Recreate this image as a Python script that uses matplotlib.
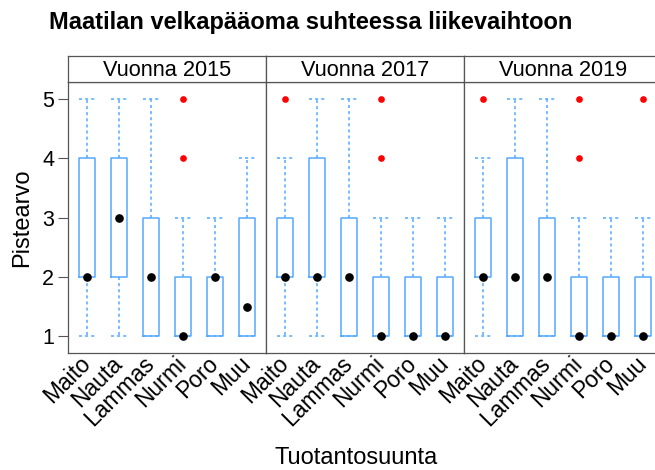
import numpy as np
import matplotlib
matplotlib.use("Agg")
import matplotlib.pyplot as plt

plt.rcParams['font.family'] = ['Liberation Sans', 'DejaVu Sans']

# data (lattice bwplot)
categories = ["Maito", "Nauta", "Lammas", "Nurmi", "Poro", "Muu"]
years = ["Vuonna 2015", "Vuonna 2017", "Vuonna 2019"]

q1 = [[2, 2, 1, 1, 1, 1],
      [2, 2, 1, 1, 1, 1],
      [2, 1, 1, 1, 1, 1]]
median = [[2, 3, 2, 1, 2, 1.5],
          [2, 2, 2, 1, 1, 1],
          [2, 2, 2, 1, 1, 1]]
q3 = [[4, 4, 3, 2, 2, 3],
      [3, 4, 3, 2, 2, 2],
      [3, 4, 3, 2, 2, 2]]
whislo = [[1, 1, 1, 1, 1, 1],
          [1, 1, 1, 1, 1, 1],
          [1, 1, 1, 1, 1, 1]]
whishi = [[5, 5, 5, 3, 3, 4],
          [4, 5, 5, 3, 3, 3],
          [4, 5, 5, 3, 3, 3]]
outliers = [[[], [], [], [4, 5], [], []],
            [[5], [], [], [4, 5], [], []],
            [[5], [], [], [4, 5], [], [5]]]

box_col = "#55aaff"
frame_col = "#555555"

W, H = 655, 470
fig = plt.figure(figsize=(6.55, 4.7), dpi=100)

left = 68
pw = 198
ptop, pbot = 82, 353
stop = 56

for k in range(3):
    x0 = (left + k * pw) / W
    ax = fig.add_axes([x0, (H - pbot) / H, pw / W, (pbot - ptop) / H])
    stats = []
    for i in range(6):
        stats.append(dict(med=median[k][i], q1=q1[k][i], q3=q3[k][i],
                          whislo=whislo[k][i], whishi=whishi[k][i],
                          fliers=outliers[k][i], label=categories[i]))
    pos = np.arange(1, 7)
    ax.bxp(stats, positions=pos, widths=0.5, capwidths=0.5,
           boxprops=dict(color=box_col, lw=1.1),
           whiskerprops=dict(color=box_col, lw=1.1, linestyle=(0, (2, 2))),
           capprops=dict(color=box_col, lw=1.1, linestyle=(0, (2, 2))),
           medianprops=dict(lw=0),
           flierprops=dict(marker='o', markersize=3.8, markerfacecolor='red',
                           markeredgecolor='red', linestyle='none'))
    ax.plot(pos, median[k], 'o', color='black', markersize=5.2, zorder=5)

    ax.set_xlim(0.4, 6.6)
    ax.set_ylim(0.72, 5.28)
    for s in ax.spines.values():
        s.set_color(frame_col)
        s.set_linewidth(0.9)
    ax.set_xticks(pos)
    ax.set_xticklabels(categories, rotation=45, ha='right', va='center',
                       rotation_mode='anchor', fontsize=16.5)
    ax.tick_params(axis='x', length=0, pad=5)
    if k == 0:
        ax.set_yticks([1, 2, 3, 4, 5])
        ax.tick_params(axis='y', length=7, color=frame_col, labelsize=15.5, pad=3)
    else:
        ax.set_yticks([])

    # strip
    sx = fig.add_axes([x0, (H - ptop) / H, pw / W, (ptop - stop) / H])
    sx.set_xticks([])
    sx.set_yticks([])
    for s in sx.spines.values():
        s.set_color(frame_col)
        s.set_linewidth(0.9)
    sx.text(0.5, 0.45, years[k], ha='center', va='center', fontsize=15.7,
            transform=sx.transAxes)

fig.text(49 / W, 1 - 22 / H, "Maatilan velkapääoma suhteessa liikevaihtoon",
         fontsize=17, fontweight='bold', ha='left', va='center')
fig.text(22 / W, 1 - 218 / H, "Pistearvo", rotation=90, fontsize=17,
         ha='center', va='center')
fig.text(356 / W, 1 - 458 / H, "Tuotantosuunta", fontsize=17,
         ha='center', va='center')

fig.savefig("out.png", dpi=100)
